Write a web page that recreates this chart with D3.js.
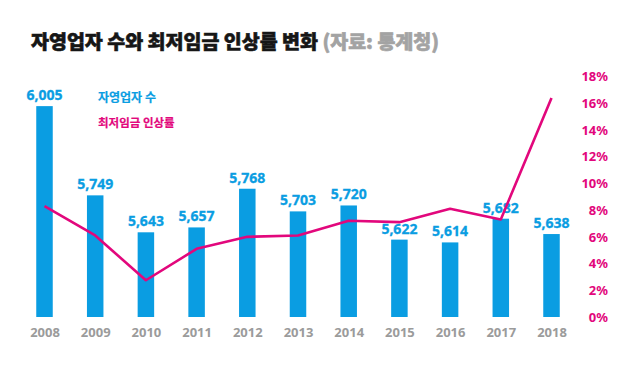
<!DOCTYPE html>
<html>
<head>
<meta charset="utf-8">
<script src="https://cdn.jsdelivr.net/npm/d3@7"></script>
<style>
  body { margin: 0; background: #fff; }
  text { font-family: "Noto Sans CJK KR", "Noto Sans", sans-serif; }
</style>
</head>
<body>
<div id="chart"></div>
<script>
// data (자료: 통계청)
var years = ['2008', '2009', '2010', '2011', '2012', '2013', '2014', '2015', '2016', '2017', '2018'];
var selfEmployed = [6005, 5749, 5643, 5657, 5768, 5703, 5720, 5622, 5614, 5682, 5638];
var wageRate = [8.3, 6.1, 2.75, 5.1, 6.0, 6.1, 7.2, 7.1, 8.1, 7.3, 16.4];
var rateTicks = [0, 2, 4, 6, 8, 10, 12, 14, 16, 18];

var blue = '#0a9de2', pink = '#e2077c', gray = '#9b9b9b';
var W = 640, H = 374;
var plotBottom = 317, plotTop = 76.5;

var svg = d3.select('#chart').append('svg')
  .attr('width', W)
  .attr('height', H);

var x = d3.scalePoint().domain(years).range([44.5, 551.5]);
var yBar = d3.scaleLinear().domain([5400, 6090]).range([plotBottom, plotTop]);
var yRate = d3.scaleLinear().domain([0, 18]).range([plotBottom, plotTop]);
var barW = 16.5;

// title (heavier look via a thin stroke)
var title = svg.append('text')
  .attr('x', 31)
  .attr('y', 49)
  .style('font-size', '19.5px')
  .style('font-weight', 900)
  .attr('fill', '#161616')
  .attr('stroke', '#161616')
  .attr('stroke-width', 0.6);
title.append('tspan').text('자영업자 수와 최저임금 인상률 변화 ');
title.append('tspan').attr('fill', '#a3a3a3').attr('stroke', '#a3a3a3').text('(자료: 통계청)');

// bars
svg.selectAll('.bar')
  .data(selfEmployed)
  .enter()
  .append('rect')
  .attr('class', 'bar')
  .attr('x', (d, i) => x(years[i]) - barW / 2)
  .attr('y', d => yBar(d))
  .attr('width', barW)
  .attr('height', d => plotBottom - yBar(d))
  .attr('fill', blue);

// value labels
svg.selectAll('.val')
  .data(selfEmployed)
  .enter()
  .append('text')
  .attr('class', 'val')
  .attr('x', (d, i) => x(years[i]))
  .attr('y', d => yBar(d) - 6)
  .attr('text-anchor', 'middle')
  .style('font-family', '"Noto Sans", sans-serif')
  .style('font-size', '14px')
  .style('font-weight', 700)
  .attr('fill', blue)
  .attr('stroke', blue)
  .attr('stroke-width', 0.3)
  .text(d => d3.format(',')(d));

// rate line
var line = d3.line()
  .x((d, i) => x(years[i]))
  .y(d => yRate(d));

svg.append('path')
  .datum(wageRate)
  .attr('d', line)
  .attr('fill', 'none')
  .attr('stroke', pink)
  .attr('stroke-width', 2.6)
  .attr('stroke-linejoin', 'round');

// x axis labels
var xAxis = svg.append('g')
  .attr('transform', `translate(0, ${plotBottom})`)
  .call(d3.axisBottom(x).tickSize(0).tickPadding(11));
xAxis.select('.domain').remove();
xAxis.selectAll('text')
  .style('font-family', '"Noto Sans", sans-serif')
  .style('font-size', '13px')
  .style('font-weight', 700)
  .attr('fill', gray);

// right axis
var yAxis = svg.append('g')
  .attr('transform', 'translate(608, 0)')
  .call(d3.axisLeft(yRate).tickValues(rateTicks).tickSize(0).tickPadding(0)
    .tickFormat(d => d + '%'));
yAxis.select('.domain').remove();
yAxis.selectAll('text')
  .style('font-family', '"Noto Sans", sans-serif')
  .style('font-size', '13px')
  .style('font-weight', 700)
  .attr('fill', pink);

// legend
svg.append('text')
  .attr('x', 98)
  .attr('y', 102)
  .style('font-size', '12px')
  .style('font-weight', 700)
  .attr('fill', blue)
  .attr('stroke', blue)
  .attr('stroke-width', 0.2)
  .text('자영업자 수');
svg.append('text')
  .attr('x', 98)
  .attr('y', 127)
  .style('font-size', '11.5px')
  .style('font-weight', 700)
  .attr('fill', pink)
  .attr('stroke', pink)
  .attr('stroke-width', 0.2)
  .text('최저임금 인상률');
</script>
</body>
</html>
